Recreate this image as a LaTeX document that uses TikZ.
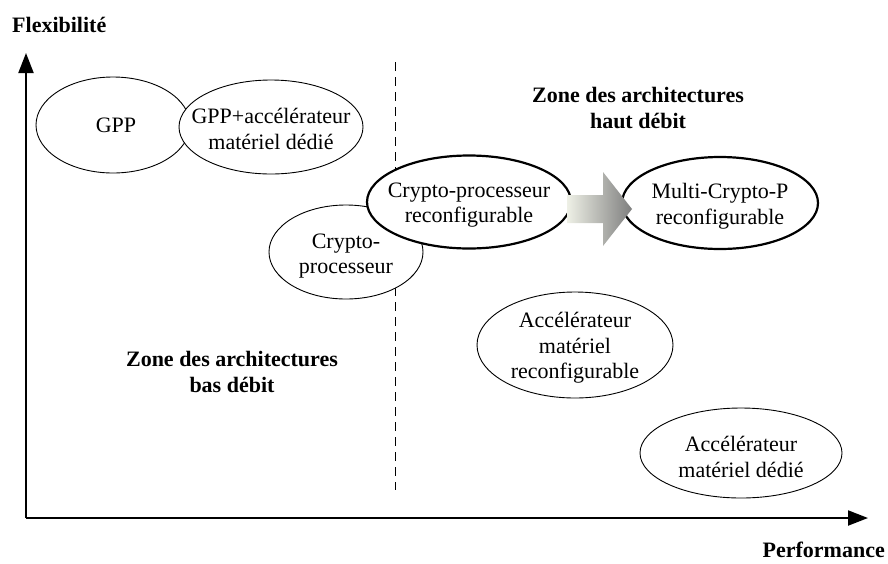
\documentclass[tikz,border=0pt]{standalone}
\usepackage{fontspec}
\setmainfont{Liberation Serif}
\usetikzlibrary{arrows.meta}
\definecolor{arrL}{HTML}{EEF0E6}
\definecolor{arrR}{HTML}{7E7E7E}
\begin{document}
\begin{tikzpicture}[x=1pt,y=-1pt,
  lbl/.style={font=\fontsize{22}{25.5}\selectfont, align=center, inner sep=0pt},
  boldlbl/.style={font=\fontsize{22}{25.5}\selectfont\bfseries, align=center, inner sep=0pt},
  ell/.style={draw=black, fill=white, line width=0.9pt},
  thickell/.style={draw=black, fill=white, line width=2.2pt},
  axisline/.style={line width=2pt, -{Triangle[length=20pt,width=15pt]}},
  zoneline/.style={dashed, line width=0.9pt, dash pattern=on 9pt off 6pt}
]
\useasboundingbox (0,0) rectangle (888,563);

% dashed separation
\coordinate (dtop) at (395,62);
\coordinate (dbot) at (395,490);
\draw[zoneline] (dtop) -- (dbot);

% GPP
\draw[ell] (113,125) ellipse [x radius=77pt, y radius=48pt];
\node[lbl] (gpp) at (116,125) {GPP};
% GPP + accelerateur
\draw[ell] (271,127) ellipse [x radius=92pt, y radius=47pt];
\node[lbl] (gppacc) at (271,129) {GPP+accélérateur\\matériel dédié};

% Crypto-processeur
\draw[ell] (346,252) ellipse [x radius=77pt, y radius=47pt];
\node[lbl] (cp) at (346,256) {Crypto-\\processeur};

% Crypto-processeur reconfigurable
\draw[thickell] (469,202) ellipse [x radius=102pt, y radius=46.5pt];
\node[lbl] (crp) at (469,205) {Crypto-processeur\\reconfigurable};

% Multi-Crypto-P
\draw[thickell] (720,203) ellipse [x radius=98pt, y radius=46pt];
\node[lbl] (mcp) at (720,206) {Multi-Crypto-P\\reconfigurable};

% Accelerateur materiel reconfigurable
\draw[ell] (575,345) ellipse [x radius=98pt, y radius=53pt];
\node[lbl] (amr) at (575,348) {Accélérateur\\matériel\\reconfigurable};

% Accelerateur materiel dedie
\draw[ell] (741,453) ellipse [x radius=101pt, y radius=45pt];
\node[lbl] (amd) at (741,457) {Accélérateur\\matériel dédié};

% gradient arrow
\shade[left color=arrL, right color=arrR]
  (567,195) -- (603,195) -- (603,172) -- (632,209) -- (603,246) -- (603,223) -- (567,223) -- cycle;

% zone labels
\node[boldlbl] (zhaut) at (638,108) {Zone des architectures\\haut débit};
\node[boldlbl] (zbas) at (232,372) {Zone des architectures\\bas débit};

% axes
\coordinate (origin) at (26,518);
\coordinate (ytip) at (26,53);
\coordinate (xtip) at (868,518);
\draw[axisline] (origin) -- (ytip);
\draw[axisline] (origin) -- (xtip);
\node[boldlbl, anchor=base west] (flex) at (12,32) {Flexibilité};
\node[boldlbl, anchor=base east] (perf) at (885,557) {Performance};
\end{tikzpicture}
\end{document}
